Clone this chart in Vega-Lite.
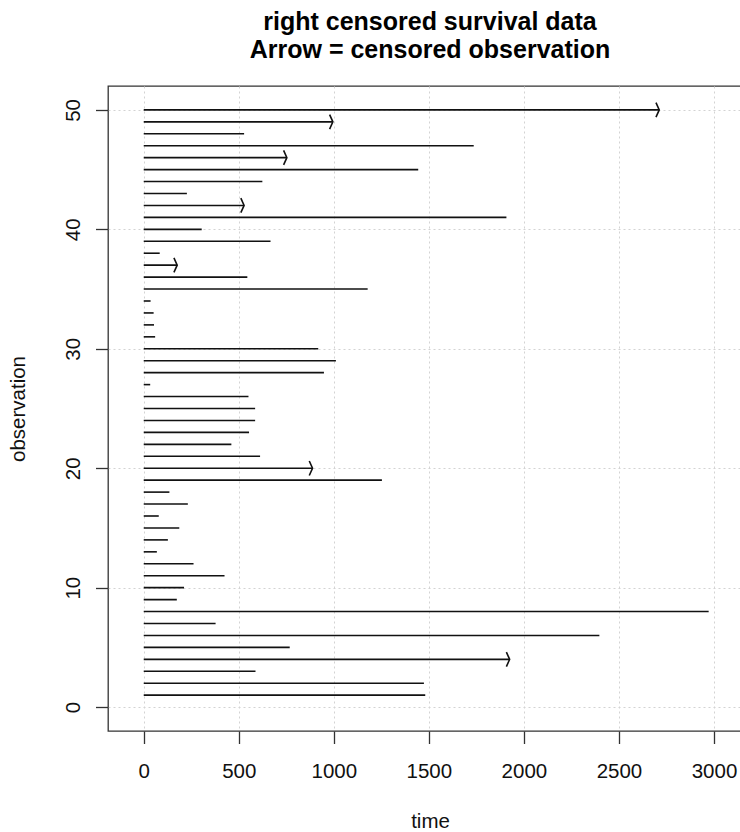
{
  "$schema": "https://vega.github.io/schema/vega-lite/v6.json",
  "autosize": "none",
  "width": 644,
  "height": 645,
  "padding": {"left": 108, "top": 86, "right": 0, "bottom": 101},
  "background": "white",
  "config": {
    "font": "Liberation Sans",
    "view": {"stroke": "#333", "strokeWidth": 1.3}
  },
  "title": {
    "text": ["right censored survival data", "Arrow = censored observation"],
    "font": "Liberation Sans",
    "fontSize": 25,
    "fontWeight": "bold",
    "color": "black",
    "anchor": "middle",
    "baseline": "bottom",
    "lineHeight": 28,
    "offset": -2
  },
  "data": {
    "values": [
      {"obs": 1, "time": 1481, "status": 1},
      {"obs": 2, "time": 1474, "status": 1},
      {"obs": 3, "time": 588, "status": 1},
      {"obs": 4, "time": 1925, "status": 0},
      {"obs": 5, "time": 768, "status": 1},
      {"obs": 6, "time": 2397, "status": 1},
      {"obs": 7, "time": 378, "status": 1},
      {"obs": 8, "time": 2972, "status": 1},
      {"obs": 9, "time": 174, "status": 1},
      {"obs": 10, "time": 212, "status": 1},
      {"obs": 11, "time": 425, "status": 1},
      {"obs": 12, "time": 262, "status": 1},
      {"obs": 13, "time": 69, "status": 1},
      {"obs": 14, "time": 127, "status": 1},
      {"obs": 15, "time": 187, "status": 1},
      {"obs": 16, "time": 79, "status": 1},
      {"obs": 17, "time": 232, "status": 1},
      {"obs": 18, "time": 135, "status": 1},
      {"obs": 19, "time": 1253, "status": 1},
      {"obs": 20, "time": 888, "status": 0},
      {"obs": 21, "time": 612, "status": 1},
      {"obs": 22, "time": 461, "status": 1},
      {"obs": 23, "time": 554, "status": 1},
      {"obs": 24, "time": 586, "status": 1},
      {"obs": 25, "time": 586, "status": 1},
      {"obs": 26, "time": 551, "status": 1},
      {"obs": 27, "time": 34, "status": 1},
      {"obs": 28, "time": 948, "status": 1},
      {"obs": 29, "time": 1011, "status": 1},
      {"obs": 30, "time": 918, "status": 1},
      {"obs": 31, "time": 60, "status": 1},
      {"obs": 32, "time": 54, "status": 1},
      {"obs": 33, "time": 52, "status": 1},
      {"obs": 34, "time": 36, "status": 1},
      {"obs": 35, "time": 1178, "status": 1},
      {"obs": 36, "time": 545, "status": 1},
      {"obs": 37, "time": 176, "status": 0},
      {"obs": 38, "time": 84, "status": 1},
      {"obs": 39, "time": 667, "status": 1},
      {"obs": 40, "time": 305, "status": 1},
      {"obs": 41, "time": 1908, "status": 1},
      {"obs": 42, "time": 528, "status": 0},
      {"obs": 43, "time": 227, "status": 1},
      {"obs": 44, "time": 624, "status": 1},
      {"obs": 45, "time": 1444, "status": 1},
      {"obs": 46, "time": 753, "status": 0},
      {"obs": 47, "time": 1736, "status": 1},
      {"obs": 48, "time": 528, "status": 1},
      {"obs": 49, "time": 995, "status": 0},
      {"obs": 50, "time": 2712, "status": 0}
    ]
  },
  "layer": [
    {
      "mark": {"type": "rule", "stroke": "#111", "strokeWidth": 1.6},
      "encoding": {
        "x": {
          "field": "time",
          "type": "quantitative",
          "scale": {"domain": [-188, 3200], "nice": false, "zero": false},
          "axis": {
            "title": "time",
            "values": [0, 500, 1000, 1500, 2000, 2500, 3000],
            "format": "d",
            "domain": false,
            "grid": true,
            "gridColor": "#d3d3d3",
            "gridDash": [2, 3],
            "gridWidth": 1,
            "tickSize": 12.5,
            "tickColor": "#333",
            "tickWidth": 1.3,
            "labelFont": "Liberation Sans",
            "labelFontSize": 20.5,
            "labelColor": "#111",
            "labelPadding": 18,
            "titleFont": "Liberation Sans",
            "titleFontSize": 20.5,
            "titleFontWeight": "normal",
            "titleColor": "#111",
            "titlePadding": 29
          }
        },
        "x2": {"datum": 0},
        "y": {
          "field": "obs",
          "type": "quantitative",
          "scale": {"domain": [-2, 52], "nice": false, "zero": false},
          "axis": {
            "title": "observation",
            "values": [0, 10, 20, 30, 40, 50],
            "format": "d",
            "domain": false,
            "grid": true,
            "gridColor": "#d3d3d3",
            "gridDash": [2, 3],
            "gridWidth": 1,
            "tickSize": 12.5,
            "tickColor": "#333",
            "tickWidth": 1.3,
            "labelFont": "Liberation Sans",
            "labelFontSize": 20.5,
            "labelColor": "#111",
            "labelAngle": -90,
            "labelAlign": "center",
            "labelBaseline": "bottom",
            "labelPadding": 12,
            "titleFont": "Liberation Sans",
            "titleFontSize": 20.5,
            "titleFontWeight": "normal",
            "titleColor": "#111",
            "titlePadding": 35
          }
        }
      }
    },
    {
      "transform": [{"filter": "datum.status == 0"}],
      "mark": {
        "type": "point",
        "shape": "M -0.45 -1 L 0 0 L -0.45 1",
        "filled": false,
        "stroke": "#111",
        "strokeWidth": 1.6,
        "size": 210,
        "opacity": 1
      },
      "encoding": {
        "x": {"field": "time", "type": "quantitative"},
        "y": {"field": "obs", "type": "quantitative"}
      }
    }
  ]
}
